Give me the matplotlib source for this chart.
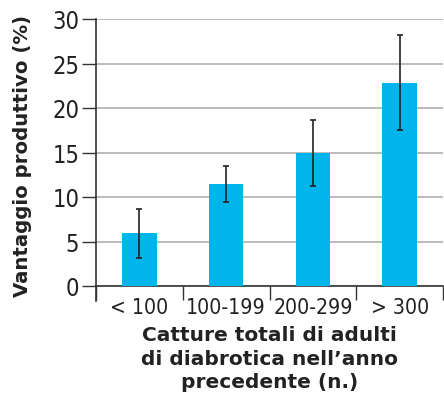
import numpy as np
import matplotlib
matplotlib.use('Agg')
import matplotlib.pyplot as plt

# Dati
categorie = ['< 100', '100-199', '200-299', '> 300']
vantaggio = [5.9, 11.45, 15.0, 22.85]
err_alto = [8.7, 13.45, 18.65, 28.2]
err_basso = [3.1, 9.45, 11.25, 17.5]
yticks = [0, 5, 10, 15, 20, 25, 30]

BLU = '#00B5EC'
font_y = dict(family='DejaVu Sans', stretch='condensed', size=17,
              weight='light', color='#222222')
font_x = dict(font_y, size=15.2)

fig = plt.figure(figsize=(4.44, 4.02), dpi=100)
ax = fig.add_axes([96 / 444, 1 - 287 / 402, (443 - 96) / 444, (287 - 20) / 402])

x = np.arange(len(categorie))
v = np.array(vantaggio)
yerr = [v - np.array(err_basso), np.array(err_alto) - v]

ax.bar(x, v, width=0.4, color=BLU, zorder=3)
ax.errorbar(x, v, yerr=yerr, fmt='none', ecolor='#222222', elinewidth=1.2,
            capsize=2.5, capthick=1.2, zorder=4)

ax.set_xlim(-0.5, len(categorie) - 0.5)
ax.set_ylim(0, 30)
ax.set_yticks(yticks)
ax.set_yticklabels([str(t) for t in yticks], fontdict=font_y)
ax.yaxis.grid(True, color='#a8a8a8', linewidth=1.1, zorder=0)
ax.set_axisbelow(True)

# etichette di categoria centrate, separatori come tick minori
ax.set_xticks(x)
ax.set_xticklabels(categorie, fontdict=font_x)
ax.tick_params(axis='x', which='major', length=0, pad=8)
ax.set_xticks(np.arange(len(categorie) + 1) - 0.5, minor=True)
ax.tick_params(axis='x', which='minor', length=10, width=1, color='#333333')
ax.tick_params(axis='y', length=10, width=1, color='#333333', pad=2)

for s in ['top', 'right']:
    ax.spines[s].set_visible(False)
for s in ['left', 'bottom']:
    ax.spines[s].set_color('#333333')
    ax.spines[s].set_linewidth(1.2)
ax.axvline(-0.5, ymin=-0.055, ymax=0, color='#333333', lw=1.2, clip_on=False)

ax.set_ylabel('Vantaggio produttivo (%)', fontsize=14.2, fontweight='bold',
              color='#222222')
ax.yaxis.set_label_coords(-64 / 347, 0.49)
ax.set_xlabel("Catture totali di adulti\ndi diabrotica nell\u2019anno\nprecedente (n.)",
              fontsize=14.5, fontweight='bold', color='#222222', linespacing=1.3,
              labelpad=6)

fig.savefig('out.png', dpi=100)
